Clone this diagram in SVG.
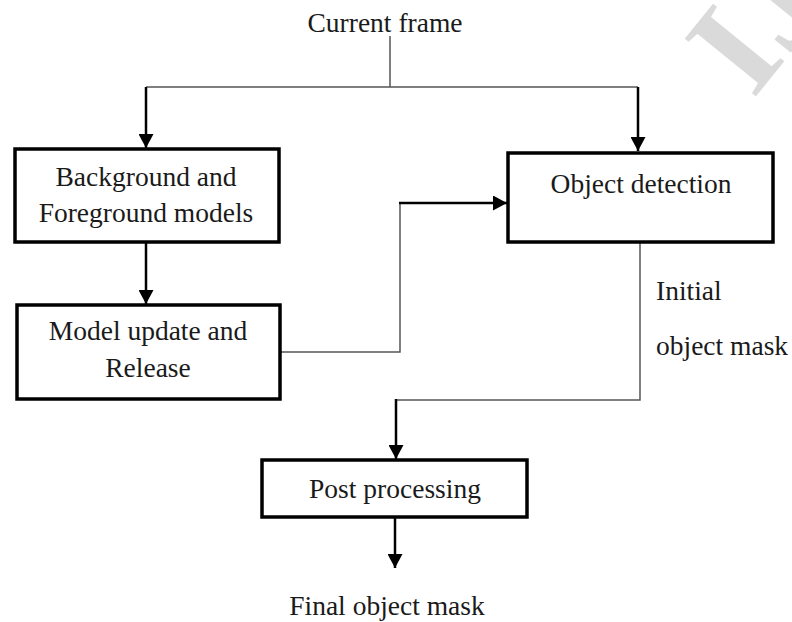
<svg xmlns="http://www.w3.org/2000/svg" width="792" height="622" viewBox="0 0 792 622">
  <defs>
    <marker id="arr" markerUnits="userSpaceOnUse" markerWidth="14" markerHeight="15" viewBox="0 0 14 15" refX="14" refY="7.5" orient="auto">
      <path d="M0,0 L14,7.5 L0,15 z" fill="#000"/>
    </marker>
    <style>
      .box { fill: #fff; stroke: #000; stroke-width: 3.5; }
      .t { font-family: "Liberation Serif", "Times New Roman", serif; font-size: 27.5px; fill: #1a1a1a; }
      .thin { fill: none; stroke: #555; stroke-width: 1.5; }
      .thick { fill: none; stroke: #000; stroke-width: 2.5; marker-end: url(#arr); }
      .wm { font-family: "Liberation Serif", serif; font-weight: bold; font-size: 140px; fill: #dadada; }
    </style>
  </defs>
  <rect width="792" height="622" fill="#fff"/>
  <text class="wm" transform="translate(753,100) rotate(-51)">IJ</text>

  <g id="connectors">
    <path class="thin" d="M390,36 V87"/>
    <path class="thin" d="M146,87 H638"/>
    <path class="thick" d="M146,87 V148"/>
    <path class="thick" d="M638,87 V151"/>
    <path class="thick" d="M146,243 V304"/>
    <path class="thin" d="M281,352 H400 V203"/>
    <path class="thick" d="M399,203 H507"/>
    <path class="thin" d="M640,243 V400 H395"/>
    <path class="thick" d="M396,399 V459"/>
    <path class="thick" d="M395,518 V568"/>
  </g>

  <g id="current-frame">
    <text class="t" x="385" y="32" text-anchor="middle">Current frame</text>
  </g>
  <g id="bg-fg-models">
    <rect class="box" x="15" y="149" width="264" height="93"/>
    <text class="t" x="146" y="186" text-anchor="middle">Background and</text>
    <text class="t" x="146" y="222" text-anchor="middle">Foreground models</text>
  </g>
  <g id="object-detection">
    <rect class="box" x="508" y="153" width="265" height="89"/>
    <text class="t" x="641" y="193" text-anchor="middle">Object detection</text>
  </g>
  <g id="model-update">
    <rect class="box" x="17" y="305" width="263" height="94"/>
    <text class="t" x="148" y="340" text-anchor="middle">Model update and</text>
    <text class="t" x="148" y="377" text-anchor="middle">Release</text>
  </g>
  <g id="initial-mask-label">
    <text class="t" x="656" y="300">Initial</text>
    <text class="t" x="656" y="355">object mask</text>
  </g>
  <g id="post-processing">
    <rect class="box" x="262" y="460" width="265" height="57"/>
    <text class="t" x="395" y="498" text-anchor="middle">Post processing</text>
  </g>
  <g id="final-mask">
    <text class="t" x="387" y="615" text-anchor="middle">Final object mask</text>
  </g>
</svg>
